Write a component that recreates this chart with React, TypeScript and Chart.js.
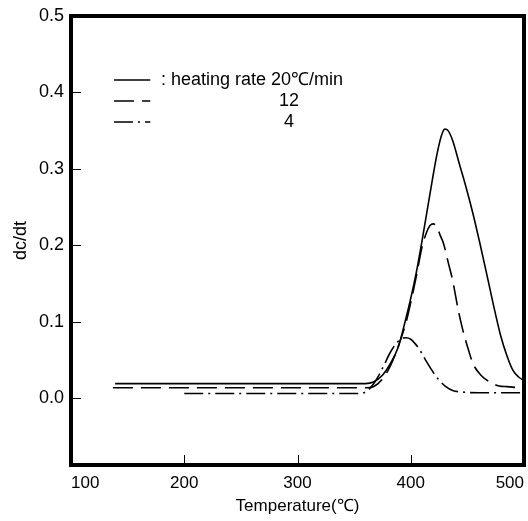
import React, { useEffect, useRef } from "react";
import { Chart, registerables } from "chart.js";

Chart.register(...registerables);

// Series 20 °C/min (solid)
const temp20 = [139, 200, 300, 360, 367, 375, 382, 389, 395, 401, 405, 410, 415, 419, 423, 427, 430, 433, 437, 443, 449, 455, 461, 467, 473, 479, 485, 490, 495, 500];
const rate20 = [0.019, 0.019, 0.019, 0.019, 0.021, 0.030, 0.045, 0.067, 0.100, 0.137, 0.165, 0.206, 0.250, 0.285, 0.318, 0.343, 0.352, 0.350, 0.337, 0.306, 0.275, 0.241, 0.203, 0.163, 0.122, 0.084, 0.055, 0.037, 0.028, 0.023];

// Series 12 °C/min (dashed)
const temp12 = [137, 200, 300, 360, 367, 375, 382, 390, 396, 401, 405, 410, 414, 417, 420, 423, 426, 429, 433, 437, 442, 446, 451, 455, 462, 470, 478, 485, 500];
const rate12 = [0.0135, 0.0135, 0.0135, 0.0135, 0.015, 0.025, 0.042, 0.072, 0.100, 0.132, 0.160, 0.198, 0.217, 0.226, 0.228, 0.224, 0.213, 0.202, 0.178, 0.154, 0.115, 0.089, 0.063, 0.045, 0.030, 0.021, 0.016, 0.015, 0.013];

// Series 4 °C/min (dash-dot)
const temp4 = [200, 300, 355, 362, 370, 376, 382, 388, 392, 396, 400, 404, 408, 413, 418, 422, 426, 431, 437, 445, 460, 500];
const rate4 = [0.006, 0.006, 0.006, 0.010, 0.025, 0.042, 0.060, 0.073, 0.078, 0.079, 0.077, 0.071, 0.063, 0.050, 0.038, 0.029, 0.022, 0.015, 0.010, 0.008, 0.007, 0.007];

const legendLabels = [": heating rate 20\u2103/min", "12", "4"];
const xTicks = [100, 200, 300, 400, 500];
const yTicks = [0.0, 0.1, 0.2, 0.3, 0.4, 0.5];

const FONT = "'Liberation Sans', Arial, sans-serif";

const framePlugin = {
  id: "frame",
  afterDatasetsDraw(chart: any) {
    const { ctx, chartArea, scales } = chart;
    const { left, top, right, bottom } = chartArea;
    ctx.save();
    ctx.strokeStyle = "#000";
    // inward ticks
    ctx.lineWidth = 1;
    scales.x.ticks.forEach((t: any) => {
      const px = Math.round(scales.x.getPixelForValue(t.value)) + 0.5;
      if (px - left < 4 || right - px < 4) return;
      ctx.beginPath();
      ctx.moveTo(px, bottom);
      ctx.lineTo(px, bottom - 10);
      ctx.stroke();
    });
    scales.y.ticks.forEach((t: any) => {
      const py = Math.round(scales.y.getPixelForValue(t.value)) + 0.5;
      if (py - top < 4 || bottom - py < 4) return;
      ctx.beginPath();
      ctx.moveTo(left, py);
      ctx.lineTo(left + 10, py);
      ctx.stroke();
    });
    // frame
    ctx.lineWidth = 4;
    ctx.strokeRect(left, top, right - left, bottom - top);

    // legend
    const rows = [80, 101, 122];
    const lx0 = scales.x.getPixelForValue(138);
    const lx1 = scales.x.getPixelForValue(170);
    ctx.font = `18px ${FONT}`;
    ctx.fillStyle = "#000";
    ctx.textBaseline = "middle";
    chart.data.datasets.forEach((ds: any, i: number) => {
      const y = rows[i];
      ctx.lineWidth = ds.borderWidth;
      ctx.setLineDash(ds.borderDash || []);
      ctx.beginPath();
      ctx.moveTo(lx0, y);
      ctx.lineTo(lx1, y);
      ctx.stroke();
      ctx.setLineDash([]);
      if (i === 0) {
        ctx.textAlign = "left";
        ctx.fillText(legendLabels[i], 161, y);
      } else {
        ctx.textAlign = "center";
        ctx.fillText(legendLabels[i], 289, y);
      }
    });
    ctx.restore();
  },
};

export default function App() {
  const ref = useRef<HTMLCanvasElement>(null);
  useEffect(() => {
    document.body.style.margin = "0";
    Chart.defaults.font.family = FONT;
    Chart.defaults.color = "#000";
    const mk = (xs: number[], ys: number[]) => xs.map((x, i) => ({ x, y: ys[i] }));
    const chart = new Chart(ref.current!, {
      type: "line",
      data: {
        datasets: [
          { label: "20", data: mk(temp20, rate20), borderColor: "#000", borderWidth: 1.6, pointRadius: 0, cubicInterpolationMode: "monotone", fill: false },
          { label: "12", data: mk(temp12, rate12), borderColor: "#000", borderWidth: 1.6, borderDash: [20, 8], pointRadius: 0, cubicInterpolationMode: "monotone", fill: false },
          { label: "4", data: mk(temp4, rate4), borderColor: "#000", borderWidth: 1.6, borderDash: [19, 5, 2, 5], pointRadius: 0, cubicInterpolationMode: "monotone", fill: false },
        ],
      } as any,
      options: {
        animation: false,
        responsive: false,
        maintainAspectRatio: false,
        layout: { padding: { left: 0, top: 16, right: 4, bottom: 0 } },
        plugins: { legend: { display: false }, tooltip: { enabled: false } },
        scales: {
          x: {
            type: "linear",
            min: 100,
            max: 500,
            afterFit: (s: any) => { s.height = 56; s.paddingLeft = 0; s.paddingRight = 0; },
            afterBuildTicks: (s: any) => { s.ticks = xTicks.map((v) => ({ value: v })); },
            grid: { display: false, drawTicks: false },
            border: { display: false },
            ticks: { padding: 8, font: { size: 17 }, color: "#000", maxRotation: 0, align: "inner" },
            title: { display: true, text: "Temperature(\u2103)", font: { size: 17 }, color: "#000", padding: { top: 0, bottom: 4 } },
          },
          y: {
            type: "linear",
            min: -0.0875,
            max: 0.5,
            afterFit: (s: any) => { s.width = 71; s.paddingTop = 0; s.paddingBottom = 0; },
            afterBuildTicks: (s: any) => { s.ticks = yTicks.map((v) => ({ value: v })); },
            grid: { display: false, drawTicks: false },
            border: { display: false },
            ticks: { padding: 7, font: { size: 18 }, color: "#000", callback: (v: any) => Number(v).toFixed(1) },
            title: { display: true, text: "dc/dt", font: { size: 18 }, color: "#000", padding: { top: 10, bottom: 0 } },
          },
        },
      } as any,
      plugins: [framePlugin],
    });
    return () => chart.destroy();
  }, []);
  return (
    <div style={{ width: 528, height: 521, background: "#fff" }}>
      <canvas ref={ref} width={528} height={521} style={{ display: "block" }} />
    </div>
  );
}
